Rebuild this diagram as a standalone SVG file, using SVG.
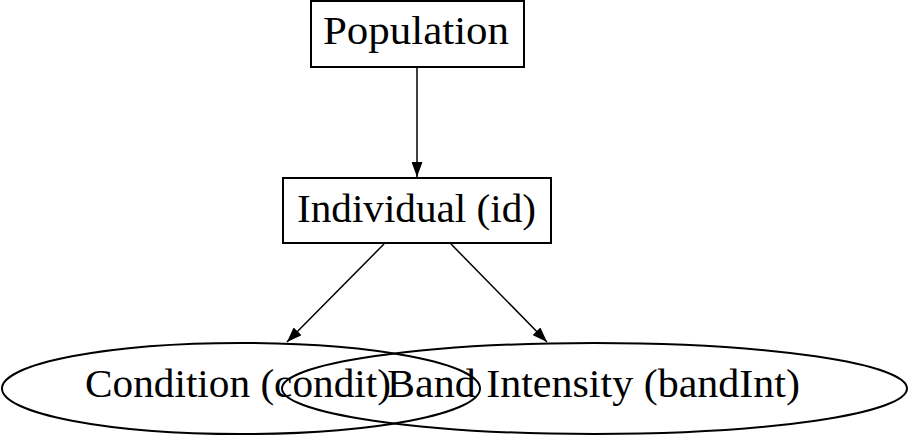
<svg xmlns="http://www.w3.org/2000/svg" width="908" height="436" viewBox="0 0 908 436">
<style>
.n{fill:#fff;stroke:#000;stroke-width:2}
.e{fill:none;stroke:#000;stroke-width:2}
.t{font-family:"Liberation Serif",serif;font-size:40px;fill:#000}
.c{stroke:#000;stroke-width:1.5;fill:none}
</style>
<defs>
<marker id="a" viewBox="0 0 15 11" refX="15" refY="5.5" markerWidth="15" markerHeight="11" markerUnits="userSpaceOnUse" orient="auto">
<path d="M0,0 L15,5.5 L0,11 z" fill="#000"/>
</marker>
</defs>
<g id="connectors">
<line class="c" x1="417" y1="67" x2="417" y2="177" marker-end="url(#a)"/>
<line class="c" x1="384" y1="244" x2="287" y2="342" marker-end="url(#a)"/>
<line class="c" x1="451" y1="244" x2="547" y2="342" marker-end="url(#a)"/>
</g>
<g id="population">
<rect class="n" x="311" y="1" width="213" height="66"/>
<text class="t" x="323" y="43.5" textLength="186" lengthAdjust="spacingAndGlyphs">Population</text>
</g>
<g id="individual">
<rect class="n" x="283" y="178" width="268" height="65"/>
<text class="t" x="297" y="222" textLength="239" lengthAdjust="spacingAndGlyphs">Individual (id)</text>
</g>
<g id="condition">
<ellipse class="e" cx="241" cy="388.5" rx="239" ry="45.5"/>
<text class="t" x="85" y="397" textLength="306" lengthAdjust="spacingAndGlyphs">Condition (condit)</text>
</g>
<g id="bandint">
<ellipse class="e" cx="594.5" cy="388.5" rx="312.5" ry="45.5"/>
<text class="t" x="387" y="397" textLength="413" lengthAdjust="spacingAndGlyphs">Band Intensity (bandInt)</text>
</g>
</svg>
